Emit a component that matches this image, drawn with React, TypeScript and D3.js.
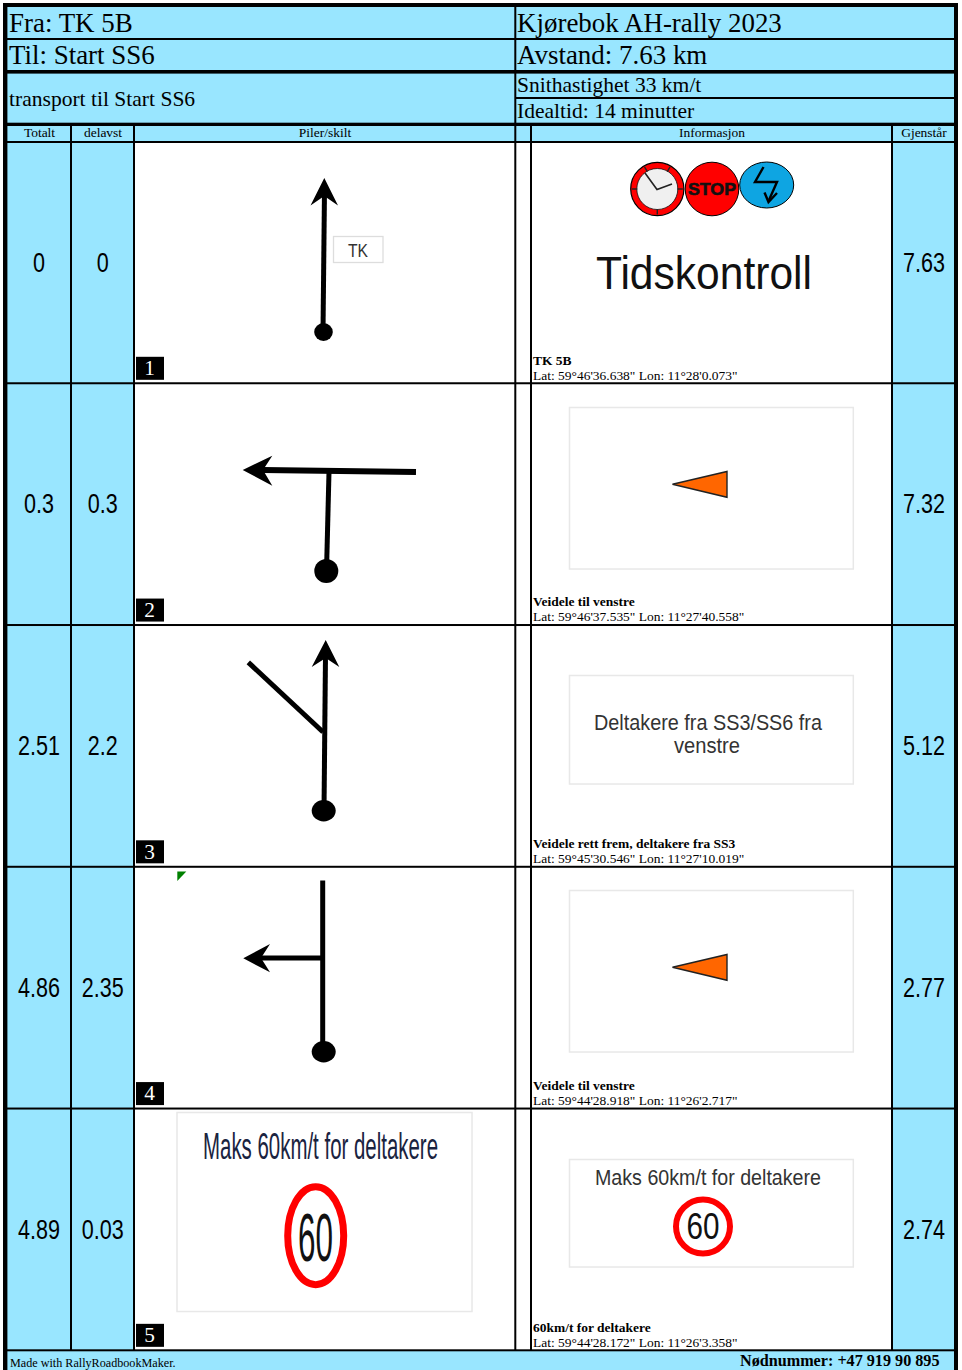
import React from "react";
import * as d3 from "d3";

const totalt = ["0", "0.3", "2.51", "4.86", "4.89"];
const delavst = ["0", "0.3", "2.2", "2.35", "0.03"];
const gjenstar = ["7.63", "7.32", "5.12", "2.77", "2.74"];
const infoTitles = ["TK 5B", "Veidele til venstre", "Veidele rett frem, deltakere fra SS3", "Veidele til venstre", "60km/t for deltakere"];
const coords = [
  'Lat: 59°46\'36.638" Lon: 11°28\'0.073"',
  'Lat: 59°46\'37.535" Lon: 11°27\'40.558"',
  'Lat: 59°45\'30.546" Lon: 11°27\'10.019"',
  'Lat: 59°44\'28.918" Lon: 11°26\'2.717"',
  'Lat: 59°44\'28.172" Lon: 11°26\'3.358"',
];
const columnHeads = [
  { label: "Totalt", x: 39.5 },
  { label: "delavst", x: 103 },
  { label: "Piler/skilt", x: 325 },
  { label: "Informasjon", x: 712 },
  { label: "Gjenstår", x: 924 },
];

const BLUE = "#99e6ff";
const SERIF = "'Liberation Serif', serif";
const SANS = "'Liberation Sans', sans-serif";

const rowScale = d3.scaleLinear().domain([0, 5]).range([141.5, 1350.3]);
const path = d3.line<[number, number]>();

function Arrow({ from, to, head, w = 5 }: { from: [number, number]; to: [number, number]; head: [number, number][]; w?: number }) {
  return (
    <g>
      <path d={path([from, to]) || ""} stroke="#000" strokeWidth={w} fill="none" />
      <path d={(path(head) || "") + "Z"} fill="#000" />
    </g>
  );
}

function Stretch({ x, y, len, size, color = "#222", weight, sw, children }: any) {
  return (
    <text x={x} y={y} textLength={len} lengthAdjust="spacingAndGlyphs" fontFamily={SANS} fontSize={size} fill={color} fontWeight={weight} stroke={sw ? color : undefined} strokeWidth={sw}>
      {children}
    </text>
  );
}

function Pennant({ dy }: { dy: number }) {
  return (
    <path
      d={(path([[672.5, 484.3 + dy], [727, 471.5 + dy], [727, 497.3 + dy]]) || "") + "Z"}
      fill="#ff6600"
      stroke="#222"
      strokeWidth={1.4}
    />
  );
}

function SignBox({ x0, x1, y0, y1 }: { x0: number; x1: number; y0: number; y1: number }) {
  return <rect x={x0} y={y0} width={x1 - x0} height={y1 - y0} fill="#fff" stroke="#e8e8e8" strokeWidth={1.5} />;
}

const clockTicks = [11, 1, 3, 6, 9];

function Clock() {
  const cx = 657.3, cy = 189;
  return (
    <g>
      <circle cx={cx} cy={cy} r={26.6} fill="#f00" stroke="#000" strokeWidth={1.2} />
      <circle cx={cx} cy={cy} r={20.5} fill="#f0f0f0" stroke="#111" strokeWidth={0.8} />
      {clockTicks.map((i) => {
        const a = (i * Math.PI) / 6;
        return (
          <line key={i} x1={cx + 20 * Math.sin(a)} y1={cy - 20 * Math.cos(a)} x2={cx + 25.5 * Math.sin(a)} y2={cy - 25.5 * Math.cos(a)} stroke="#222" strokeWidth={1.4} />
        );
      })}
      <path d={path([[645, 173], [657, 189.5], [672, 184]]) || ""} fill="none" stroke="#222" strokeWidth={1.6} />
    </g>
  );
}

function Signs() {
  return (
    <g>
      <Clock />
      <circle cx={712} cy={189} r={26.8} fill="#f00" stroke="#000" strokeWidth={1} />
      <Stretch x={688} y={195} len={48} size={16.5} color="#111" weight="bold" sw={0.6}>STOP</Stretch>
      <ellipse cx={766.7} cy={185} rx={27} ry={23} fill="#0ea5e2" stroke="#000" strokeWidth={1} />
      <path d={path([[763.5, 167], [755, 182], [777, 182], [769, 200]]) || ""} fill="none" stroke="#000" strokeWidth={2.4} />
      <path d={path([[764.5, 192.5], [768.5, 202], [777, 193]]) || ""} fill="none" stroke="#000" strokeWidth={2.4} />
    </g>
  );
}

function SpeedCircle({ cx, cy, rx, ry, sw, tx, ty, tlen, size }: any) {
  return (
    <g>
      <ellipse cx={cx} cy={cy} rx={rx} ry={ry} fill="#fff" stroke="#f00" strokeWidth={sw} />
      <Stretch x={tx} y={ty} len={tlen} size={size} color="#111">60</Stretch>
    </g>
  );
}

export default function App() {
  const lines: number[] = d3.range(1, 5).map((i) => rowScale(i));
  return (
    <svg width={962} height={1370} style={{ position: "absolute", left: 0, top: 0, background: "#fff" }}>
      {/* blue panels */}
      <rect x={3} y={3} width={955} height={139} fill={BLUE} />
      {[[5, 66], [71, 63], [892, 63]].map(([x, w]) => (
        <rect key={x} x={x} y={142} width={w} height={1208} fill={BLUE} />
      ))}
      <rect x={3} y={1350} width={955} height={20} fill={BLUE} />

      {/* header text */}
      <g fontFamily={SERIF} fill="#000">
        <text x={9} y={32} fontSize={26.95}>Fra: TK 5B</text>
        <text x={9} y={64} fontSize={26.95}>Til: Start SS6</text>
        <text x={9} y={106} fontSize={21.55}>transport til Start SS6</text>
        <text x={517} y={32} fontSize={26.95}>Kjørebok AH-rally 2023</text>
        <text x={517} y={64} fontSize={26.95}>Avstand: 7.63 km</text>
        <text x={517} y={92} fontSize={21.55}>Snithastighet 33 km/t</text>
        <text x={517} y={118} fontSize={21.55}>Idealtid: 14 minutter</text>
        {columnHeads.map((c) => (
          <text key={c.label} x={c.x} y={137} fontSize={13.47} textAnchor="middle">{c.label}</text>
        ))}
      </g>

      {/* pictures */}
      <Arrow from={[323, 332]} to={[324.5, 190]} w={5} head={[[324.3, 178], [338, 205.5], [324.3, 196], [310.5, 205.5]]} />
      <ellipse cx={323.5} cy={332} rx={9.3} ry={9} />
      <rect x={333.5} y={236.5} width={49.5} height={26} fill="#fff" stroke="#ddd" strokeWidth={1.3} />
      <Stretch x={348} y={257} len={20} size={18} color="#333">TK</Stretch>

      <Arrow from={[263, 470]} to={[416, 472]} w={6} head={[[242.7, 470], [272.3, 455.7], [263, 470], [272.3, 485.7]]} />
      <path d={path([[329, 472], [326.5, 571]]) || ""} stroke="#000" strokeWidth={5} />
      <circle cx={326.3} cy={571} r={12} />

      <Arrow from={[324, 811]} to={[325.5, 655]} w={5} head={[[325.7, 640], [339.3, 667], [325.7, 658], [311.7, 667]]} />
      <path d={path([[248.3, 662.3], [323, 732]]) || ""} stroke="#000" strokeWidth={5} fill="none" />
      <ellipse cx={323.7} cy={810.7} rx={12} ry={10.7} />

      <path d={path([[322.7, 880.5], [322.7, 1051]]) || ""} stroke="#000" strokeWidth={5} />
      <Arrow from={[261, 958]} to={[322, 958]} w={5} head={[[243.3, 958.3], [270, 944], [261, 958], [270, 972.3]]} />
      <ellipse cx={323.7} cy={1051.7} rx={12} ry={10.7} />
      <path d={(path([[177.3, 871.5], [186.3, 871.5], [177.3, 881]]) || "") + "Z"} fill="#008000" />

      <SignBox x0={177} x1={472} y0={1112.5} y1={1311.5} />
      <Stretch x={203} y={1159} len={235} size={37} color="#1a2340">Maks 60km/t for deltakere</Stretch>
      <SpeedCircle cx={315.7} cy={1235.7} rx={28} ry={49} sw={7} tx={298} ty={1261} tlen={35} size={69} />

      <Signs />
      <Stretch x={596} y={288.5} len={216} size={46} color="#111">Tidskontroll</Stretch>

      <SignBox x0={569.5} x1={853.3} y0={407.5} y1={569} />
      <Pennant dy={0} />
      <SignBox x0={569.5} x1={853.3} y0={675.5} y1={784} />
      <Stretch x={594} y={730} len={228} size={22} color="#333">Deltakere fra SS3/SS6 fra</Stretch>
      <Stretch x={674} y={753} len={66} size={22} color="#333">venstre</Stretch>
      <SignBox x0={569.5} x1={853.3} y0={890.5} y1={1052} />
      <Pennant dy={483} />
      <SignBox x0={569.5} x1={853.3} y0={1159.5} y1={1267} />
      <Stretch x={595} y={1185} len={226} size={22} color="#333">Maks 60km/t for deltakere</Stretch>
      <SpeedCircle cx={703} cy={1226.5} rx={27} ry={27} sw={6} tx={686.5} ty={1239} tlen={33} size={36} />

      {/* row values */}
      {totalt.map((_, i) => {
        const y = rowScale(i) + 130.2;
        return (
          <g key={i}>
            {[[39, totalt[i]], [102.7, delavst[i]], [924, gjenstar[i]]].map(([x, v]) => (
              <text key={x as number} transform={`translate(${x},${y}) scale(0.77,1)`} fontFamily={SANS} fontSize={28} textAnchor="middle" fill="#000">{v}</text>
            ))}
            <rect x={136} y={rowScale(i) + 215.3} width={28} height={23} fill="#000" />
            <text x={149.5} y={rowScale(i) + 233.6} fontFamily={SERIF} fontSize={21.33} fill="#fff" textAnchor="middle">{i + 1}</text>
            <text x={533} y={rowScale(i) + 223} fontFamily={SERIF} fontSize={13.47} fontWeight="bold">{infoTitles[i]}</text>
            <text x={533} y={rowScale(i) + 238} fontFamily={SERIF} fontSize={13.47}>{coords[i]}</text>
          </g>
        );
      })}

      {/* rules */}
      <g fill="#000">
        <rect x={3} y={3} width={955} height={4} />
        <rect x={3} y={3} width={4.4} height={1367} />
        <rect x={954} y={3} width={4} height={1367} />
        <rect x={3} y={38} width={955} height={2} />
        <rect x={3} y={70} width={955} height={3.6} />
        <rect x={516} y={97} width={442} height={2} />
        <rect x={3} y={122.7} width={955} height={3.3} />
        <rect x={3} y={141} width={955} height={2} />
        {lines.map((y) => <rect key={y} x={3} y={y - 1} width={955} height={2} />)}
        <rect x={3} y={1349.3} width={955} height={2} />
        <rect x={514.3} y={7} width={2} height={1343} />
        {[70, 133, 530, 891].map((x) => <rect key={x} x={x} y={124} width={2} height={1226} />)}
      </g>

      <text x={10} y={1367} fontFamily={SERIF} fontSize={12.15}>Made with RallyRoadbookMaker.</text>
      <text x={740} y={1366} fontFamily={SERIF} fontSize={16.16} fontWeight="bold">Nødnummer: +47 919 90 895</text>
    </svg>
  );
}
